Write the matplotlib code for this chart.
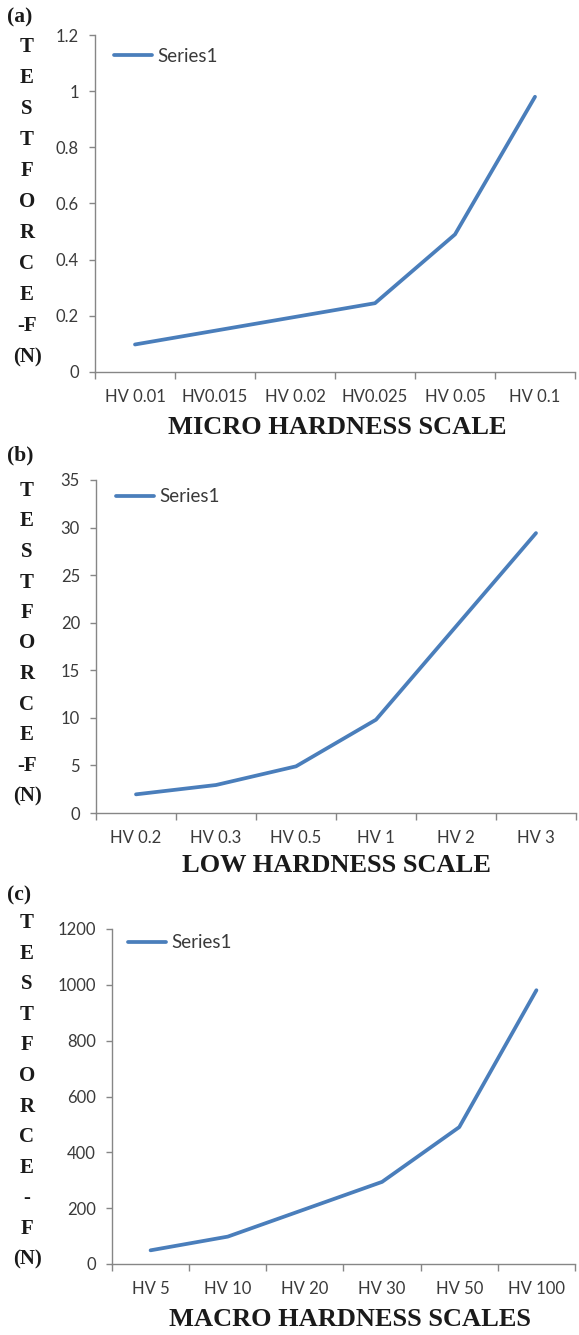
import matplotlib
matplotlib.use("Agg")
import matplotlib.pyplot as plt
from matplotlib.ticker import FixedLocator, NullFormatter

W, H = 579, 1335
DPI = 100

micro_cats = ["HV 0.01", "HV0.015", "HV 0.02", "HV0.025", "HV 0.05", "HV 0.1"]
micro_vals = [0.098, 0.147, 0.196, 0.245, 0.49, 0.98]
micro_yticks = [0, 0.2, 0.4, 0.6, 0.8, 1, 1.2]
micro_ylabels = ["0", "0.2", "0.4", "0.6", "0.8", "1", "1.2"]

low_cats = ["HV 0.2", "HV 0.3", "HV 0.5", "HV 1", "HV 2", "HV 3"]
low_vals = [1.961, 2.942, 4.903, 9.807, 19.61, 29.42]
low_yticks = [0, 5, 10, 15, 20, 25, 30, 35]

macro_cats = ["HV 5", "HV 10", "HV 20", "HV 30", "HV 50", "HV 100"]
macro_vals = [49.03, 98.07, 196.1, 294.2, 490.3, 980.7]
macro_yticks = [0, 200, 400, 600, 800, 1000, 1200]

series_name = "Series1"
panel_tags = ["(a)", "(b)", "(c)"]
xlabels = ["MICRO HARDNESS SCALE", "LOW HARDNESS SCALE", "MACRO HARDNESS SCALES"]
ylab_ab = ["T", "E", "S", "T", "F", "O", "R", "C", "E", "-F", "(N)"]
ylab_c = ["T", "E", "S", "T", "F", "O", "R", "C", "E", "-", "F", "(N)"]

LINE = "#4A7EBB"
SPINE = "#868686"
TXT = "#3a3a3a"
SANS = ["Lato", "DejaVu Sans"]
SERIF = ["Liberation Serif", "DejaVu Serif"]

fig = plt.figure(figsize=(W / DPI, H / DPI), dpi=DPI)
fig.patch.set_facecolor("white")

def fx(px):
    return px / W

def fy(py):
    return 1 - py / H

panels = [
    dict(cats=micro_cats, vals=micro_vals, yt=micro_yticks, yl=micro_ylabels, ymax=1.2,
         box=(95, 575, 35, 372), tag=(7, 17), xlab=(337, 427), letters=ylab_ab,
         l_top=47, l_step=31.0, leg=(114, 56)),
    dict(cats=low_cats, vals=low_vals, yt=low_yticks, yl=[str(v) for v in low_yticks], ymax=35,
         box=(96, 576, 480, 813), tag=(7, 455), xlab=(336, 865), letters=ylab_ab,
         l_top=491, l_step=30.5, leg=(116, 497)),
    dict(cats=macro_cats, vals=macro_vals, yt=macro_yticks, yl=[str(v) for v in macro_yticks], ymax=1200,
         box=(112, 575, 929, 1264), tag=(7, 895), xlab=(350, 1320), letters=ylab_c,
         l_top=923, l_step=30.6, leg=(128, 943)),
]

for i, p in enumerate(panels):
    l, r, t, b = p["box"]
    ax = fig.add_axes([fx(l), fy(b), fx(r) - fx(l), fy(t) - fy(b)])
    n = len(p["cats"])
    xs = list(range(n))
    ln, = ax.plot(xs, p["vals"], color=LINE, lw=2.7, solid_capstyle="round",
                  solid_joinstyle="round", label=series_name)
    ax.set_xlim(-0.5, n - 0.5)
    ax.set_ylim(0, p["ymax"])
    for s in ["top", "right"]:
        ax.spines[s].set_visible(False)
    for s in ["left", "bottom"]:
        ax.spines[s].set_color(SPINE)
        ax.spines[s].set_linewidth(1.0)
    ax.set_yticks(p["yt"])
    ax.set_yticklabels(p["yl"], fontfamily=SANS, fontsize=12, color=TXT)
    ax.tick_params(axis="y", length=4, width=1, color=SPINE, direction="out", pad=7.5)
    ax.xaxis.set_major_locator(FixedLocator([k - 0.5 for k in range(n + 1)]))
    ax.xaxis.set_major_formatter(NullFormatter())
    ax.xaxis.set_minor_locator(FixedLocator(xs))
    ax.set_xticklabels(p["cats"], minor=True, fontfamily=SANS, fontsize=12, color=TXT)
    ax.tick_params(axis="x", which="major", length=5, width=1, color=SPINE, direction="out")
    ax.tick_params(axis="x", which="minor", length=0, pad=12.5)
    ax.patch.set_visible(False)

    lx, ly = p["leg"]
    leg = fig.legend(handles=[ln], loc="center left",
                     bbox_to_anchor=(fx(lx), fy(ly)),
                     frameon=False, handlelength=2.0, handletextpad=0.3,
                     prop=dict(family=SANS, size=13.5), borderaxespad=0, borderpad=0)
    for txt in leg.get_texts():
        txt.set_color(TXT)

    fig.text(fx(p["tag"][0]), fy(p["tag"][1]), panel_tags[i], ha="left", va="center",
             fontfamily=SERIF, fontweight="bold", fontsize=15.5, color="#1a1a1a")
    for k, ch in enumerate(p["letters"]):
        fig.text(fx(27), fy(p["l_top"] + k * p["l_step"]), ch, ha="center", va="center",
                 fontfamily=SERIF, fontweight="bold", fontsize=15, color="#1a1a1a")
    fig.text(fx(p["xlab"][0]), fy(p["xlab"][1]), xlabels[i], ha="center", va="center",
             fontfamily=SERIF, fontweight="bold", fontsize=19, color="#1a1a1a")

fig.savefig("out.png", dpi=DPI, facecolor="white")
